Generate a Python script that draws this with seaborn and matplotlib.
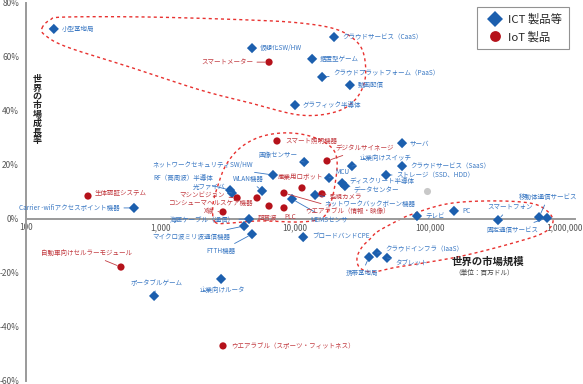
import numpy as np
import pandas as pd
import matplotlib
matplotlib.use("Agg")
import matplotlib.pyplot as plt
import seaborn as sns

# --- DATOS (market size in million USD, growth in %) ---
ict_names = ["小型基地局", "仮想化SW/HW", "クラウドサービス（CaaS）", "据置型ゲーム",
             "クラウドプラットフォーム（PaaS）", "動画配信", "グラフィック半導体", "サーバ",
             "企業向けスイッチ", "クラウドサービス（SaaS）", "ストレージ（SSD、HDD）", "MCU",
             "ディスクリート半導体", "データセンター", "ネットワークバックボーン機器", "MEMSセンサ",
             "テレビ", "PC", "スマートフォン", "移動体通信サービス", "固定通信サービス",
             "海底ケーブル（通信）", "マイクロ波ミリ波通信機器", "FTTH機器", "企業向けルータ",
             "ポータブルゲーム", "ブロードバンドCPE", "クラウドインフラ（IaaS）", "携帯基地局",
             "タブレット", "Carrier -wifiアクセスポイント機器", "ネットワークセキュリティSW/HW",
             "WLAN機器", "画像センサー", "RF（高周波）半導体", "光ファイバ"]
ict_size = [161, 4790, 19500, 13400, 15900, 25600, 10000, 62500,
            26500, 62500, 47500, 17900, 22400, 23500, 14100, 9500,
            80700, 152000, 323000, 652000, 748000,
            4550, 4180, 4790, 2820, 896, 11500, 40700, 35500,
            48300, 635, 6860, 5690, 11700, 3290, 3400]
ict_growth = [70.4, 63.3, 67.4, 59.3, 52.6, 49.6, 42.2, 28.1,
              19.6, 19.6, 16.3, 15.2, 13.3, 12.2, 8.9, 7.4,
              1.1, 3.0, -0.4, 0.7, 0.4,
              0.0, -2.6, -5.6, -22.2, -28.5, -6.7, -12.6, -14.1,
              -14.4, 4.1, 16.3, 10.4, 21.1, 10.7, 9.6]

iot_names = ["スマートメーター", "生体認証システム", "自動車向けセルラーモジュール",
             "ウエアラブル（スポーツ・フィットネス）", "スマート照明機器", "デジタルサイネージ",
             "産業用ロボット", "監視カメラ", "ウエアラブル（情報・映像）", "PLC", "超音波",
             "コンシューマヘルスケア機器", "マシンビジョン", "X線"]
iot_size = [6410, 289, 508, 2915, 7345, 17300, 11270, 15870, 8280, 8280, 6410, 5220, 3710, 2915]
iot_growth = [58.1, 8.5, -17.8, -47.0, 28.9, 21.5, 11.5, 9.3, 9.6, 4.1, 4.8, 7.8, 7.8, 2.6]

other_size = [95700]
other_growth = [10.4]

x_ticks = [100, 1000, 10000, 100000, 1000000]
x_tick_labels = ["100", "1,000", "10,000", "100,000", "1,000,000"]
y_ticks = [-60, -40, -20, 0, 20, 40, 60, 80]

# dashed group outlines (log10 market size, growth %)
outline_top = [(2.119, 70.7), (2.178, 73.7), (2.290, 74.8), (2.922, 74.8), (3.665, 73.7),
               (4.037, 72.6), (4.297, 70.4), (4.446, 66.3), (4.513, 60.7), (4.520, 51.5),
               (4.446, 44.1), (4.297, 39.6), (4.037, 38.5), (3.665, 43.0), (3.294, 47.8),
               (2.796, 55.9), (2.305, 63.7), (2.141, 68.1)]
outline_mid = [(3.405, -1.1), (3.390, 5.2), (3.428, 12.6), (3.487, 20.0), (3.591, 26.3),
               (3.740, 30.4), (3.926, 31.9), (4.112, 30.7), (4.260, 27.0), (4.312, 21.9),
               (4.297, 12.6), (4.260, 5.2), (4.201, 0.4), (4.037, -1.1), (3.740, -0.7),
               (3.517, -1.5)]
outline_low = [(4.610, -4.8), (4.729, -1.5), (4.855, 1.5), (5.130, 5.6), (5.450, 6.7),
               (5.747, 5.9), (5.874, 3.0), (5.918, -1.1), (5.844, -5.2), (5.621, -8.9),
               (5.279, -13.3), (5.004, -15.9), (4.758, -17.8), (4.580, -19.6), (4.483, -18.1),
               (4.461, -14.4), (4.498, -10.4), (4.558, -7.4)]

# --- LAYOUT DE ETIQUETAS: dx, dy (pixels), ha, leader ---
label_layout = {
    "小型基地局": (8, 0, "left", False),
    "仮想化SW/HW": (8, 0, "left", False),
    "クラウドサービス（CaaS）": (8, 0, "left", False),
    "据置型ゲーム": (8, 0, "left", False),
    "クラウドプラットフォーム（PaaS）": (11, 4, "left", True),
    "動画配信": (8, 0, "left", False),
    "グラフィック半導体": (8, 0, "left", False),
    "サーバ": (8, 0, "left", False),
    "企業向けスイッチ": (8, 8, "left", True),
    "クラウドサービス（SaaS）": (8, 0, "left", False),
    "ストレージ（SSD、HDD）": (10, 0, "left", True),
    "MCU": (6, 6, "left", True),
    "ディスクリート半導体": (7, 2, "left", False),
    "データセンター": (9, -4, "left", True),
    "ネットワークバックボーン機器": (9, -9, "left", True),
    "MEMSセンサ": (18, -21, "left", True),
    "テレビ": (8, 0, "left", False),
    "PC": (8, 0, "left", False),
    "スマートフォン": (-11, 13, "left", True),
    "移動体通信サービス": (-20, 20, "left", True),
    "固定通信サービス": (-9, -12, "right", True),
    "海底ケーブル（通信）": (-14, -1, "right", True),
    "マイクロ波ミリ波通信機器": (-14, -11, "right", True),
    "FTTH機器": (-17, -17, "right", True),
    "企業向けルータ": (1, -11, "center", False),
    "ポータブルゲーム": (3, 13, "center", True),
    "ブロードバンドCPE": (9, 0, "left", False),
    "クラウドインフラ（IaaS）": (8, 4, "left", True),
    "携帯基地局": (-7, -16, "center", True),
    "タブレット": (8, -6, "left", True),
    "Carrier -wifiアクセスポイント機器": (-14, 0, "right", True),
    "ネットワークセキュリティSW/HW": (-20, 10, "right", True),
    "WLAN機器": (-14, 12, "center", True),
    "画像センサー": (-7, 7, "right", True),
    "RF（高周波）半導体": (-17, 12, "right", True),
    "光ファイバ": (-7, 6, "right", True),
    "スマートメーター": (-16, 0, "right", True),
    "生体認証システム": (7, 3, "left", False),
    "自動車向けセルラーモジュール": (-34, 14, "center", True),
    "ウエアラブル（スポーツ・フィットネス）": (8, 0, "left", False),
    "スマート照明機器": (8, 0, "left", False),
    "デジタルサイネージ": (8, 13, "left", True),
    "産業用ロボット": (-1, 11, "center", False),
    "監視カメラ": (8, -3, "left", True),
    "ウエアラブル（情報・映像）": (21, -18, "left", True),
    "PLC": (6, -9, "center", False),
    "超音波": (-1, -12, "center", False),
    "コンシューマヘルスケア機器": (-4, -5, "right", False),
    "マシンビジョン": (-12, 3, "right", True),
    "X線": (-9, 1, "right", True),
}

BLUE = "#1c5fae"
RED = "#b5121b"
BLUE_TXT = "#3a78c3"
RED_TXT = "#c23a40"
DASH = "#e8312f"

df = pd.concat([
    pd.DataFrame({"name": ict_names, "size": ict_size, "growth": ict_growth, "group": "ICT 製品等"}),
    pd.DataFrame({"name": iot_names, "size": iot_size, "growth": iot_growth, "group": "IoT 製品"}),
], ignore_index=True)

sns.set_style("white")
plt.rcParams["font.family"] = ["Noto Sans CJK JP", "DejaVu Sans"]

fig = plt.figure(figsize=(5.83, 3.84), dpi=100)
ax = fig.add_axes([26 / 583, 3 / 384, 549 / 583, 378 / 384])

sns.scatterplot(data=df, x="size", y="growth", hue="group", style="group",
                palette={"ICT 製品等": BLUE, "IoT 製品": RED},
                markers={"ICT 製品等": "D", "IoT 製品": "o"},
                s=27, linewidth=0, ax=ax, zorder=4)
ax.scatter(other_size, other_growth, s=26, color="#c8c8c8", linewidth=0, zorder=3)

ax.set_xscale("log")
ax.set_xlim(100, 10 ** (2 + 549 / 134.5))
ax.set_ylim(-60, 80)


# dashed outlines (closed Catmull-Rom)
def closed_spline(pts, n=30):
    p = np.array(pts)
    out = []
    m = len(p)
    t = np.linspace(0, 1, n, endpoint=False)[:, None]
    for i in range(m):
        p0, p1, p2, p3 = p[i - 1], p[i], p[(i + 1) % m], p[(i + 2) % m]
        seg = 0.5 * (2 * p1 + (-p0 + p2) * t + (2 * p0 - 5 * p1 + 4 * p2 - p3) * t ** 2
                     + (-p0 + 3 * p1 - 3 * p2 + p3) * t ** 3)
        out.append(seg)
    out = np.vstack(out + [p[:1]])
    return out


for ol in (outline_top, outline_mid, outline_low):
    c = closed_spline(ol)
    ax.plot(10 ** c[:, 0], c[:, 1], color=DASH, lw=1.0, ls=(0, (2.2, 2.2)), zorder=2)

# labels
for _, r in df.iterrows():
    dx, dy, ha, leader = label_layout[r["name"]]
    col = BLUE_TXT if r["group"] == "ICT 製品等" else RED_TXT
    ap = dict(arrowstyle="-", color=col, lw=0.6, shrinkA=0.5, shrinkB=3) if leader else None
    ax.annotate(r["name"], xy=(r["size"], r["growth"]), xytext=(dx, dy),
                textcoords="offset pixels", ha=ha, va="center", fontsize=4.7,
                color=col, arrowprops=ap, zorder=5)

# axes styling
for s in ("top", "right"):
    ax.spines[s].set_visible(False)
ax.spines["bottom"].set_position(("data", 0))
ax.spines["bottom"].set_color("#9a9a9a")
ax.spines["bottom"].set_linewidth(1.4)
ax.spines["left"].set_color("#9a9a9a")
ax.spines["left"].set_linewidth(1.4)

ax.set_xticks(x_ticks, x_tick_labels)
ax.minorticks_off()
ax.tick_params(axis="x", length=0, pad=3, labelsize=6, labelcolor="#555555")
ax.set_yticks(y_ticks, [f"{v}%" for v in y_ticks])
ax.tick_params(axis="y", length=4, width=1.0, color="#9a9a9a", pad=1, labelsize=6, labelcolor="#555555")
ax.set_xlabel("")
ax.set_ylabel("")

leg = ax.legend(loc="upper right", bbox_to_anchor=(1.0, 1.005), frameon=True, fancybox=False,
                fontsize=8.2, markerscale=1.5, handletextpad=0.2, borderpad=0.6, labelspacing=0.5)
leg.get_frame().set_edgecolor("#777777")
leg.get_frame().set_linewidth(0.8)

fig.text(37 / 583, 1 - 110 / 384, "\n".join("世界の市場成長率"), fontsize=6.5, fontweight="bold",
         ha="center", va="center", linespacing=0.95, color="#222222")
fig.text(452 / 583, 1 - 262 / 384, "世界の市場規模", fontsize=7.5, fontweight="bold",
         ha="left", va="center", color="#222222")
fig.text(454 / 583, 1 - 273 / 384, "（単位：百万ドル）", fontsize=4.8,
         ha="left", va="center", color="#444444")

fig.savefig("out.png", dpi=100)
